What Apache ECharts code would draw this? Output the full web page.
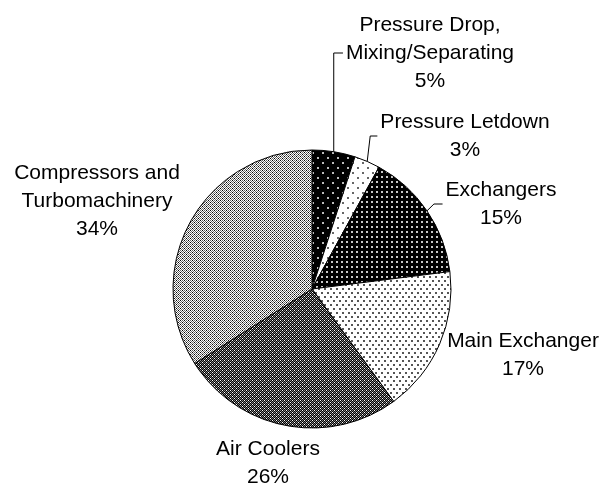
<!DOCTYPE html>
<html>
<head>
<meta charset="utf-8">
<script src="https://cdn.jsdelivr.net/npm/echarts@6/dist/echarts.min.js"></script>
<style>
  html, body { margin: 0; padding: 0; background: #fff; }
  #main { width: 602px; height: 485px; }
</style>
</head>
<body>
<div id="main"></div>
<script>
// data (clockwise from 12 o'clock)
const categories = [
  'Pressure Drop,\nMixing/Separating',
  'Pressure Letdown',
  'Exchangers',
  'Main Exchanger',
  'Air Coolers',
  'Compressors and\nTurbomachinery'
];
const shares = [5, 3, 15, 17, 26, 34];

// where each label block sits (centre of the text block)
const labelAt = [
  [430, 53], [465, 136], [501, 204], [523, 355], [268, 463], [97, 201]
];
// how far the leader line runs sideways before turning (-1 = no line)
const leaderKink = [0, 3, 7, -1, -1, -1];

// build a small bitmap tile for a pattern fill
function tile(rows, pal) {
  const c = document.createElement('canvas');
  c.width = rows[0].length;
  c.height = rows.length;
  const ctx = c.getContext('2d');
  rows.forEach((r, y) => {
    for (let x = 0; x < r.length; x++) {
      ctx.fillStyle = pal[r[x]];
      ctx.fillRect(x, y, 1, 1);
    }
  });
  return { image: c, repeat: 'repeat' };
}

function dots(w, h, bg, fg, pts, size) {
  const c = document.createElement('canvas');
  c.width = w; c.height = h;
  const ctx = c.getContext('2d');
  ctx.fillStyle = bg;
  ctx.fillRect(0, 0, w, h);
  ctx.fillStyle = fg;
  pts.forEach(p => ctx.fillRect(p[0], p[1], size, size));
  return { image: c, repeat: 'repeat' };
}

const fills = [
  dots(10, 10, '#000', '#bbb', [[2, 2], [7, 7]], 2),
  dots(10, 10, '#fff', '#666', [[2, 2], [7, 7]], 2),
  dots(5, 5, '#000', '#c8c8c8', [[1, 1]], 2),
  dots(6, 8, '#fff', '#555', [[0, 0], [3, 4]], 2),
  tile([
    'WKGK',
    'KGKG',
    'GKWK',
    'KGKG'
  ], { W: '#fff', K: '#000', G: '#808080' }),
  tile([
    'KWGW',
    'WGWG',
    'GWKW',
    'WGWG'
  ], { W: '#fff', K: '#000', G: '#666' })
];

const chart = echarts.init(document.getElementById('main'), null, { renderer: 'canvas' });

chart.setOption({
  animation: false,
  backgroundColor: '#fff',
  series: [{
    type: 'pie',
    silent: true,
    center: [312, 289],
    radius: 139,
    startAngle: 90,
    clockwise: true,
    percentPrecision: 0,
    avoidLabelOverlap: false,
    itemStyle: { borderColor: '#000', borderWidth: 1 },
    label: {
      show: true,
      position: 'outside',
      formatter: '{b}\n{d}%',
      fontFamily: 'Liberation Sans',
      fontSize: 21,
      lineHeight: 28,
      color: '#000',
      align: 'center'
    },
    labelLine: {
      show: true,
      smooth: false,
      lineStyle: { color: '#000', width: 1 }
    },
    labelLayout: function (p) {
      const i = p.dataIndex;
      const x = labelAt[i][0], y = labelAt[i][1];
      const out = { x: x, y: y, align: 'center', verticalAlign: 'middle' };
      if (leaderKink[i] >= 0 && p.labelLinePoints) {
        const s = p.labelLinePoints[0];
        const left = x - p.labelRect.width / 2 - 3;
        out.labelLinePoints = [[s[0], s[1]], [s[0] + leaderKink[i], y], [left, y]];
      } else {
        out.labelLinePoints = [[0, 0], [0, 0], [0, 0]];
      }
      return out;
    },
    data: categories.map((name, i) => ({
      name: name,
      value: shares[i],
      itemStyle: { color: fills[i] },
      labelLine: { show: leaderKink[i] >= 0 }
    }))
  }]
});
</script>
</body>
</html>
